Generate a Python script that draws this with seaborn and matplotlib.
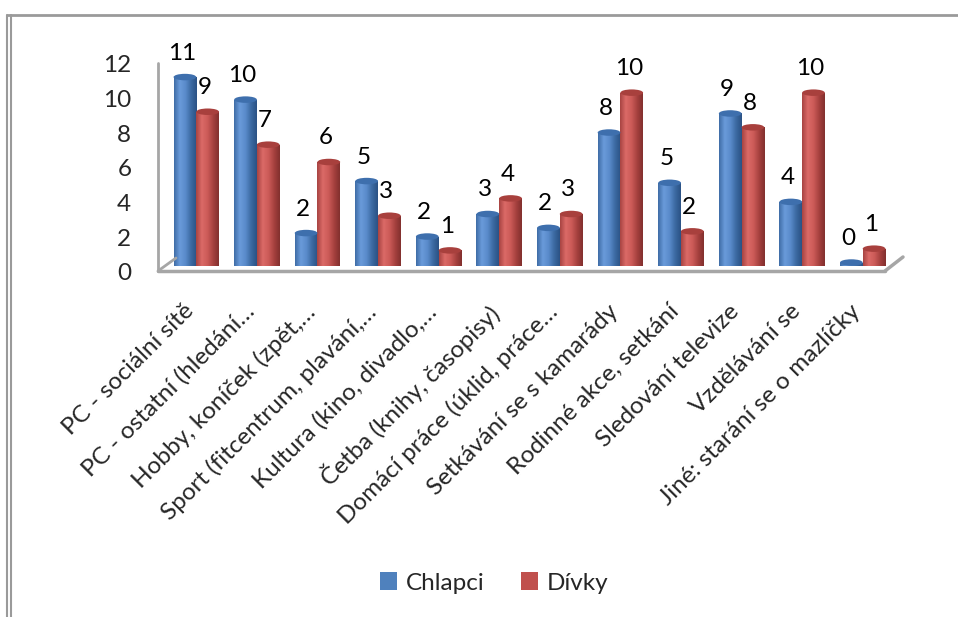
import numpy as np
import pandas as pd
import matplotlib
matplotlib.use("Agg")
import matplotlib.pyplot as plt
import seaborn as sns
from matplotlib.patches import Ellipse, Rectangle
from matplotlib.lines import Line2D
from matplotlib.transforms import ScaledTranslation
from matplotlib.colors import LinearSegmentedColormap

categories = [
    "PC - sociální sítě",
    "PC - ostatní (hledání…",
    "Hobby, koníček (zpět,…",
    "Sport (fitcentrum, plavání,…",
    "Kultura (kino, divadlo,…",
    "Četba (knihy, časopisy)",
    "Domácí práce (úklid, práce…",
    "Setkávání se s kamarády",
    "Rodinné akce, setkání",
    "Sledování televize",
    "Vzdělávání se",
    "Jiné: starání se o mazlíčky",
]
chlapci = [10.9, 9.6, 1.9, 4.9, 1.7, 3.0, 2.2, 7.7, 4.8, 8.8, 3.7, 0.2]
divky = [8.9, 7.0, 6.0, 2.9, 0.9, 3.9, 3.0, 10.0, 2.0, 8.0, 10.0, 1.0]
series = ["Chlapci", "Dívky"]
yticks = [0, 2, 4, 6, 8, 10, 12]

base_colors = {"Chlapci": "#4F81BD", "Dívky": "#C0504D"}
grad_colors = {
    "Chlapci": ["#3F6DA6", "#6A9BDA", "#5A8BCB", "#3C6AA2", "#2B5285"],
    "Dívky": ["#A84442", "#DB6A67", "#CC5B58", "#A6413F", "#82302E"],
}
cap_colors = {"Chlapci": "#3E6FAD", "Dívky": "#A8403D"}

df = pd.DataFrame({
    "Kategorie": categories * 2,
    "Pohlaví": [series[0]] * len(categories) + [series[1]] * len(categories),
    "Hodnota": chlapci + divky,
})

sns.set_theme(style="white")
plt.rcParams["font.family"] = ["Lato", "DejaVu Sans"]

W, H = 958, 617
fig = plt.figure(figsize=(W / 100, H / 100), dpi=100)

def fx(px):
    return px / W

def fy(py):
    return 1 - py / H

ax_left, ax_right = 166, 893
ax_bottom, ax_top = 266, 58
ax = fig.add_axes([fx(ax_left), fy(ax_bottom), fx(ax_right - ax_left), (ax_bottom - ax_top) / H])

sns.barplot(data=df, x="Kategorie", y="Hodnota", hue="Pohlaví",
            palette=base_colors, width=0.75, ax=ax, legend=False,
            saturation=1, errorbar=None)

ax.set_xlim(-0.5, len(categories) - 0.5)
ax.set_ylim(0, 12)
for s in ax.spines.values():
    s.set_visible(False)
ax.patch.set_alpha(0)
ax.set_xlabel("")
ax.set_ylabel("")

px_per_unit = (ax_bottom - ax_top) / 12.0
cap_h = 6.5 / px_per_unit
FS = 17.5

n = len(categories)
patches = list(ax.patches)
for i, p in enumerate(patches):
    ser = series[i // n]
    x0, w, h = p.get_x(), p.get_width(), p.get_height()
    cx = x0 + w / 2
    cmap = LinearSegmentedColormap.from_list("g", grad_colors[ser])
    grad = np.linspace(0, 1, 64).reshape(1, -1)
    p.set_facecolor("none")
    p.set_edgecolor("none")
    body = Rectangle((x0, 0), w, h, transform=ax.transData, facecolor="none", edgecolor="none")
    ax.add_patch(body)
    im = ax.imshow(grad, extent=(x0, x0 + w, -cap_h, h), aspect="auto",
                   cmap=cmap, zorder=2, interpolation="bilinear")
    im.set_clip_path(body)
    bot = Ellipse((cx, 0), w, cap_h, transform=ax.transData, facecolor="none", edgecolor="none")
    ax.add_patch(bot)
    im2 = ax.imshow(grad, extent=(x0, x0 + w, -cap_h, h), aspect="auto",
                    cmap=cmap, zorder=2, interpolation="bilinear")
    im2.set_clip_path(bot)
    ax.add_patch(Ellipse((cx, h), w, cap_h, facecolor=cap_colors[ser],
                         edgecolor="none", zorder=3))
    ax.annotate(f"{round(h):.0f}", xy=(cx, h), xytext=(-3, 24),
                textcoords="offset pixels", ha="center", va="center",
                fontsize=FS, color="black", zorder=4)

ax.set_xlim(-0.5, len(categories) - 0.5)
ax.set_ylim(0, 12)

ax.set_yticks(yticks)
ax.set_yticklabels([str(t) for t in yticks], fontsize=FS)
ax.tick_params(axis="y", length=0, pad=25)
for lab in ax.get_yticklabels():
    lab.set_transform(lab.get_transform() + ScaledTranslation(0, -6 / 100, fig.dpi_scale_trans))

ax.set_xticks(range(n))
ax.set_xticklabels(categories, rotation=45, ha="right", va="top",
                   rotation_mode="anchor", fontsize=FS)
ax.tick_params(axis="x", length=0, pad=14)
for lab in ax.get_xticklabels():
    lab.set_transform(lab.get_transform() + ScaledTranslation(-13 / 100, -15 / 100, fig.dpi_scale_trans))

gray = "#A6A6A6"
fig.add_artist(Line2D([fx(158), fx(158)], [fy(63), fy(271)], color=gray, lw=2.0))
fig.add_artist(Line2D([fx(158), fx(885)], [fy(271), fy(271)], color=gray, lw=2.5))
fig.add_artist(Line2D([fx(158), fx(176)], [fy(271), fy(258)], color=gray, lw=2.0))
fig.add_artist(Line2D([fx(885), fx(903)], [fy(271), fy(257)], color=gray, lw=2.5))

fig.add_artist(Line2D([fx(7), fx(958)], [fy(15), fy(15)], color="#9A9A9A", lw=2.0))
fig.add_artist(Line2D([fx(7), fx(7)], [fy(15), fy(617)], color="#9A9A9A", lw=1.5))
fig.add_artist(Line2D([fx(11), fx(11)], [fy(15), fy(617)], color="#9A9A9A", lw=1.5))

handles = [Rectangle((0, 0), 1, 1, facecolor=base_colors[s], edgecolor="none") for s in series]
fig.legend(handles, series, loc="center", bbox_to_anchor=(fx(494), fy(583)),
           ncol=2, frameon=False, fontsize=FS, handlelength=0.7, handleheight=0.7,
           handletextpad=0.35, columnspacing=1.5)

fig.savefig("out.png", dpi=100, facecolor="white")
